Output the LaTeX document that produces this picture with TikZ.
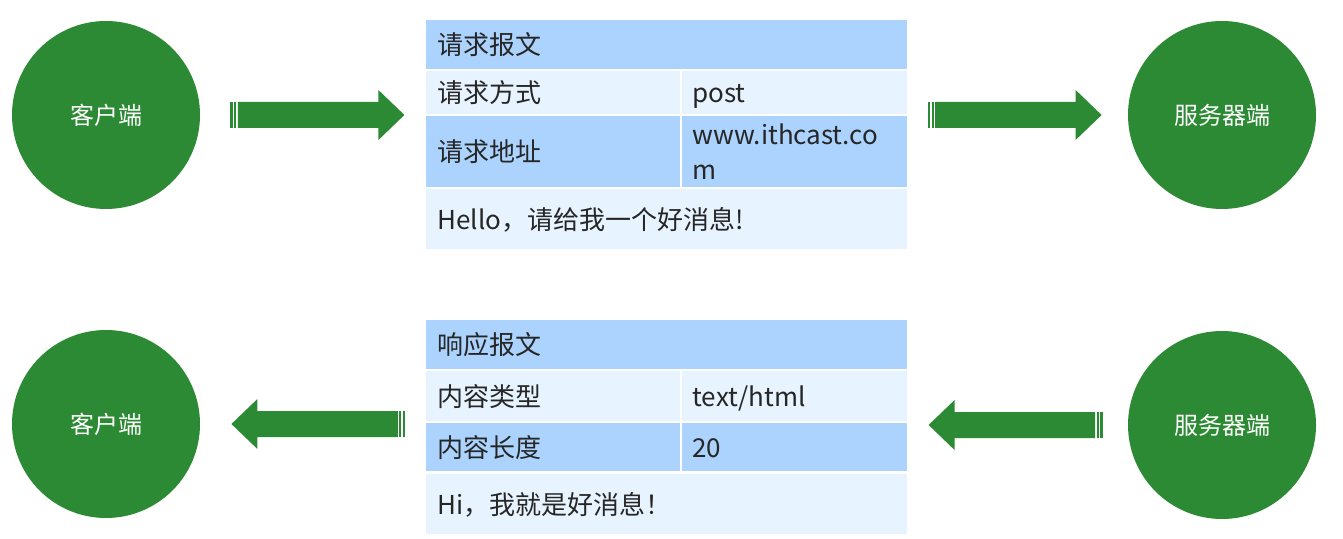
\documentclass[tikz,border=0pt]{standalone}
\usepackage{fontspec}
\setmainfont{Noto Sans CJK SC}
\usetikzlibrary{calc}
\definecolor{verde}{RGB}{45,138,52}
\definecolor{azulfuerte}{RGB}{171,211,254}
\definecolor{azulclaro}{RGB}{231,243,255}
\definecolor{texto}{RGB}{38,38,38}
\newcommand{\cellstrut}{\rule[-3pt]{0pt}{16pt}}
\begin{document}
\begin{tikzpicture}[
    x=0.5pt, y=-0.5pt,
    endpoint/.style={circle, fill=verde, minimum size=94pt, inner sep=0pt,
                     text=white, font=\fontsize{12}{14}\selectfont},
    cell/.style={anchor=north west, inner ysep=0pt, inner xsep=5.5pt, align=left,
                 text=texto, font=\fontsize{13}{17.5}\selectfont,
                 execute at begin node=\cellstrut, execute at end node=\cellstrut},
    head/.style={cell, fill=azulfuerte, minimum height=24.5pt, text width=229.5pt},
    keycell/.style={cell, text width=116pt},
    valcell/.style={cell, inner xsep=5pt, text width=102.5pt},
    body/.style={cell, fill=azulclaro, minimum height=30pt, text width=229.5pt},
    fatarrow/.pic={
      \fill[verde] (0,-13) rectangle (2.5,13);
      \fill[verde] (4,-13) rectangle (6,13);
      \fill[verde] (7.5,-13) -- (148,-13) -- (148,-25) -- (174,0) -- (148,25) -- (148,13) -- (7.5,13) -- cycle;
    }
  ]
  \useasboundingbox (0,0) rectangle (1343,539);
  \node[endpoint] (cli1) at (106,115) {客户端};
  \node[endpoint] (srv1) at (1222,115) {服务器端};
  \node[endpoint] (cli2) at (106,424) {客户端};
  \node[endpoint] (srv2) at (1222,425) {服务器端};
  \pic at ($(cli1.east)+(30,0)$) {fatarrow};
  \pic at ($(srv1.west)+(-200,0)$) {fatarrow};
  \pic[rotate=180] at ($(cli2.east)+(205,0)$) {fatarrow};
  \pic[rotate=180] at ($(srv2.west)+(-25,0)$) {fatarrow};
  \node[head] (reqhead) at (426,20) {请求报文};
  \node[keycell, fill=azulclaro, minimum height=21.5pt] (reqk1) at (426,71) {请求方式};
  \node[valcell, fill=azulclaro, minimum height=21.5pt] (reqv1) at (682,71) {post};
  \node[keycell, fill=azulfuerte, minimum height=35.5pt] (reqk2) at (426,116) {请求地址};
  \node[valcell, fill=azulfuerte, minimum height=35.5pt] (reqv2) at (682,116) {www.ithcast.co\\m};
  \node[body] (reqbody) at (426,189) {Hello，请给我一个好消息!};
  \node[head] (reshead) at (426,320) {响应报文};
  \node[keycell, fill=azulclaro, minimum height=25pt] (resk1) at (426,371) {内容类型};
  \node[valcell, fill=azulclaro, minimum height=25pt] (resv1) at (682,371) {text/html};
  \node[keycell, fill=azulfuerte, minimum height=24pt] (resk2) at (426,423) {内容长度};
  \node[valcell, fill=azulfuerte, minimum height=24pt] (resv2) at (682,423) {20};
  \node[body] (resbody) at (426,474) {Hi，我就是好消息！};
\end{tikzpicture}
\end{document}
